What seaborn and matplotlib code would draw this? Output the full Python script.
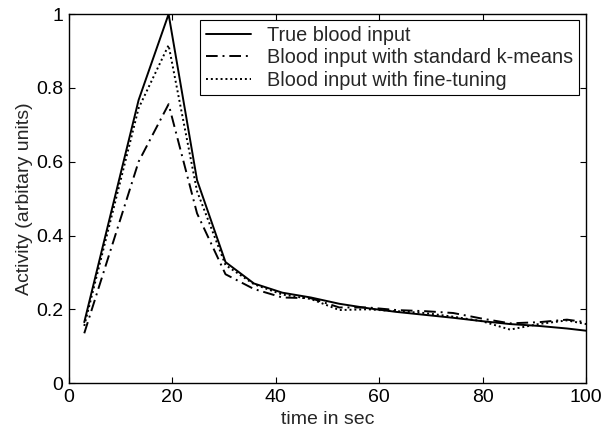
import pandas as pd
import seaborn as sns
import matplotlib.pyplot as plt

# Values.
time_sec = [3, 13.5, 19.3, 24.8, 30.3, 35.8, 41.3, 46.8, 52.3, 57.8,
            63.3, 68.8, 74.3, 79.8, 85.3, 90.8, 96.3, 100]
true_input = [0.165, 0.767, 1.0, 0.55, 0.328, 0.27, 0.245, 0.232, 0.215, 0.203,
              0.193, 0.185, 0.177, 0.168, 0.16, 0.155, 0.148, 0.142]
kmeans_input = [0.135, 0.60, 0.756, 0.46, 0.295, 0.255, 0.232, 0.23, 0.205, 0.205,
                0.198, 0.195, 0.19, 0.175, 0.162, 0.165, 0.172, 0.165]
finetuned_input = [0.155, 0.745, 0.916, 0.52, 0.32, 0.268, 0.24, 0.228, 0.198, 0.2,
                   0.195, 0.19, 0.18, 0.168, 0.145, 0.16, 0.17, 0.16]
series_names = ['True blood input',
                'Blood input with standard k-means',
                'Blood input with fine-tuning']

sns.set_style('ticks')
plt.rcParams['font.family'] = ['Liberation Sans', 'DejaVu Sans']
plt.rcParams['font.size'] = 14

df = pd.DataFrame({'time': time_sec * 3,
                   'activity': true_input + kmeans_input + finetuned_input,
                   'series': [series_names[0]] * len(time_sec)
                             + [series_names[1]] * len(time_sec)
                             + [series_names[2]] * len(time_sec)})

fig = plt.figure(figsize=(6.03, 4.29), dpi=100)
ax = fig.add_axes([0.114, 0.107, 0.858, 0.860])

styles = {series_names[0]: '-', series_names[1]: (0, (6, 2.5, 1, 2.5)),
          series_names[2]: (0, (1, 1.5))}
for name in series_names:
    sns.lineplot(data=df[df.series == name], x='time', y='activity', ax=ax,
                 color='black', linewidth=1.4, linestyle=styles[name], label=name)

ax.set_xlim(0, 100)
ax.set_ylim(0, 1)
ax.set_xticks([0, 20, 40, 60, 80, 100])
ax.set_yticks([0, 0.2, 0.4, 0.6, 0.8, 1])
ax.set_yticklabels(['0', '0.2', '0.4', '0.6', '0.8', '1'])
ax.set_xlabel('time in sec', labelpad=4)
ax.set_ylabel('Activity (arbitary units)', labelpad=2)
ax.tick_params(direction='in', top=True, right=True, length=4, width=0.8,
               labelsize=14, colors='black', pad=4)
for sp in ax.spines.values():
    sp.set_visible(True)
    sp.set_color('black')
    sp.set_linewidth(1)

leg = ax.legend(loc='upper right', bbox_to_anchor=(0.986, 0.984), fancybox=False,
                edgecolor='black', framealpha=1, borderpad=0.28,
                labelspacing=0.18, handlelength=2.3, handletextpad=0.8,
                fontsize=14.3, borderaxespad=0)
leg.get_frame().set_linewidth(0.8)

fig.savefig('out.png', dpi=100)
